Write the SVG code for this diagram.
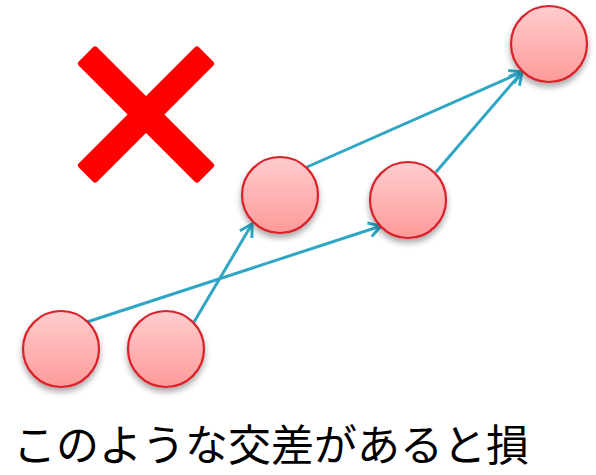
<svg xmlns="http://www.w3.org/2000/svg" width="596" height="475" viewBox="0 0 596 475">
<style>
.node circle{fill:url(#pink);stroke:#d9202b;stroke-width:2.2;filter:url(#shadow)}
.conn line{stroke:#2ea6c4;stroke-width:3;fill:none;marker-end:url(#arr)}
.label{font-family:"Noto Sans CJK JP","Noto Sans CJK SC",sans-serif;font-size:43px;fill:#000}
</style>
<defs>
<linearGradient id="pink" x1="0" y1="0" x2="0" y2="1">
<stop offset="0" stop-color="#ffcdcd"/>
<stop offset="1" stop-color="#ff9a9a"/>
</linearGradient>
<filter id="shadow" x="-30%" y="-30%" width="160%" height="170%">
<feGaussianBlur in="SourceAlpha" stdDeviation="3"/>
<feOffset dx="0" dy="4" result="b"/>
<feComponentTransfer><feFuncA type="linear" slope="0.35"/></feComponentTransfer>
<feMerge><feMergeNode/><feMergeNode in="SourceGraphic"/></feMerge>
</filter>
<marker id="arr" markerUnits="userSpaceOnUse" markerWidth="20" markerHeight="20" refX="13" refY="8" orient="auto" viewBox="0 0 20 16">
<path d="M1,1 L13,8 L1,15" fill="none" stroke="#2ea6c4" stroke-width="3" stroke-linejoin="miter"/>
</marker>
</defs>
<g id="cross" fill="#ff0000">
<rect x="61" y="101.5" width="170" height="26" rx="3" transform="rotate(45 146 114.5)"/>
<rect x="61" y="101.5" width="170" height="26" rx="3" transform="rotate(-45 146 114.5)"/>
</g>
<g id="connectors" class="conn">
<line x1="87" y1="322" x2="381" y2="226"/>
<line x1="194" y1="322" x2="252" y2="224"/>
<line x1="307" y1="167" x2="522" y2="72"/>
<line x1="436" y1="172" x2="522" y2="72"/>
</g>
<g id="n1" class="node"><circle cx="61" cy="349" r="38"/></g>
<g id="n2" class="node"><circle cx="166" cy="349" r="38"/></g>
<g id="n3" class="node"><circle cx="280" cy="195" r="38"/></g>
<g id="n4" class="node"><circle cx="408" cy="200" r="38"/></g>
<g id="n5" class="node"><circle cx="549" cy="44" r="38"/></g>
<text class="label" x="13" y="461">このような交差があると損</text>
</svg>
